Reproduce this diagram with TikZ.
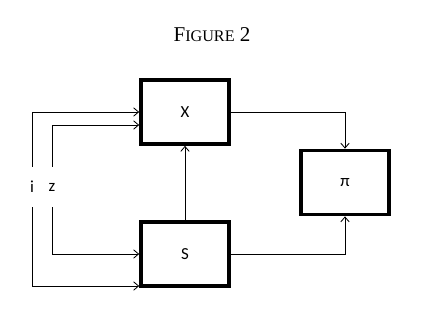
\documentclass[tikz,border=0pt]{standalone}
\usepackage{fontspec}
\setmainfont{Carlito}
\newfontfamily\titlefont{Liberation Serif}
\usetikzlibrary{arrows.meta, positioning}

\begin{document}
\begin{tikzpicture}[x=0.025cm, y=-0.025cm,
    block/.style={draw, line width=2.6pt, minimum width=2.2cm, minimum height=1.6cm, font=\large},
    arr/.style={line width=0.6pt, -{Straight Barb[length=3.5pt, width=6pt]}},
    lbl/.style={inner sep=0pt, minimum height=1cm, font=\large}]
  \useasboundingbox (0,0) rectangle (423,330);
  % title
  \node (title) at (212,35) {\titlefont\fontsize{15}{18}\selectfont F{\fontsize{11.5}{14}\selectfont IGURE} 2};
  % blocks
  \node[block] (X) at (185,112) {X};
  \node[block] (S) at (185,254) {S};
  \node[block] (P) at (345,182.5) {π};
  % inputs
  \node[lbl] (i) at (32,187) {i};
  \node[lbl] (z) at (52,187) {z};
  \draw[arr] (i.north) |- (X.west);
  \draw[arr] (z.north) |- ([yshift=-0.325cm]X.west);
  \draw[arr] (z.south) |- (S.west);
  \draw[arr] (i.south) |- ([yshift=-0.8cm]S.west);
  % links
  \draw[arr] (S) -- (X);
  \draw[arr] (X.east) -| (P.north);
  \draw[arr] (S.east) -| (P.south);
\end{tikzpicture}
\end{document}
